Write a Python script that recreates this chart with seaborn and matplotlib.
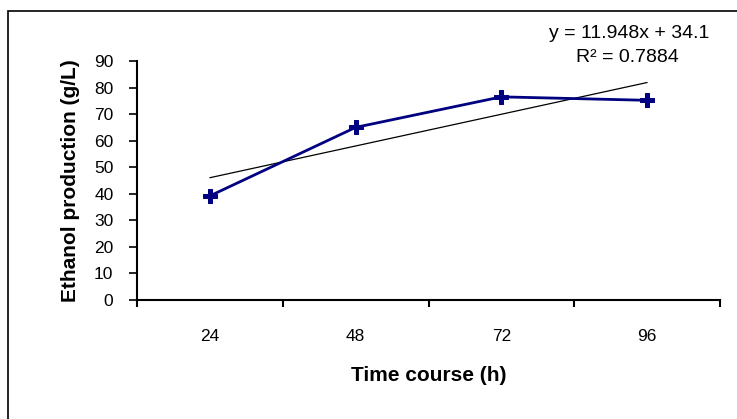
import matplotlib
matplotlib.use("Agg")
import matplotlib.pyplot as plt
import seaborn as sns
import pandas as pd
import numpy as np
from matplotlib.patches import Rectangle

categories = ["24", "48", "72", "96"]
ethanol = [39.2, 65.0, 76.5, 75.2]
yticks = [0, 10, 20, 30, 40, 50, 60, 70, 80, 90]
eq_text = "y = 11.948x + 34.1"
r2_text = "R\u00b2 = 0.7884"

sns.set_style("white")
plt.rcParams["font.family"] = ["Liberation Sans", "DejaVu Sans"]
plt.rcParams["text.color"] = "black"
plt.rcParams["axes.labelcolor"] = "black"
plt.rcParams["xtick.color"] = "black"
plt.rcParams["ytick.color"] = "black"

df = pd.DataFrame({"pos": np.arange(len(categories)), "val": ethanol})

fig = plt.figure(figsize=(7.37, 4.19), dpi=100)
fig.patches.append(Rectangle((8 / 737, -0.1), 1.2, 1 - 11 / 419 + 0.1,
                             transform=fig.transFigure, fill=False,
                             edgecolor="black", linewidth=1.2))
ax = fig.add_axes([137 / 737, 1 - 300 / 419, (720 - 137) / 737, (300 - 61) / 419])

sns.regplot(data=df, x="pos", y="val", ax=ax, ci=None, scatter=False,
            line_kws=dict(color="black", linewidth=0.9))
sns.lineplot(data=df, x="pos", y="val", ax=ax, color="#000080", linewidth=2,
             marker="P", markersize=10.5, markeredgecolor="#000080")

ax.set_xlim(-0.5, len(categories) - 0.5)
ax.set_ylim(0, 90)
ax.set_yticks(yticks)
ax.set_yticklabels([str(t) for t in yticks], fontsize=12.5)
ax.set_xticks(np.arange(len(categories)))
ax.set_xticklabels(categories, fontsize=12.5)
ax.set_xticks(np.arange(len(categories) + 1) - 0.5, minor=True)
ax.tick_params(axis="x", which="major", length=0, pad=21, labelcolor="black")
ax.tick_params(axis="x", which="minor", length=5, width=1.5, direction="out", bottom=True, color="black")
ax.tick_params(axis="y", length=6, width=1.2, direction="out", left=True, pad=11,
               color="black", labelcolor="black")

for s in ["top", "right"]:
    ax.spines[s].set_visible(False)
for s in ["left", "bottom"]:
    ax.spines[s].set_linewidth(1.5)
    ax.spines[s].set_color("black")

ax.set_xlabel("Time course (h)", fontsize=15, fontweight="bold", labelpad=16, color="black")
ax.set_ylabel("Ethanol production (g/L)", fontsize=15, fontweight="bold", labelpad=10, color="black")

fig.text(629 / 737, 1 - 34 / 419, eq_text, ha="center", va="center", fontsize=14, color="black")
fig.text(627 / 737, 1 - 58 / 419, r2_text, ha="center", va="center", fontsize=14, color="black")

fig.savefig("out.png", dpi=100)
